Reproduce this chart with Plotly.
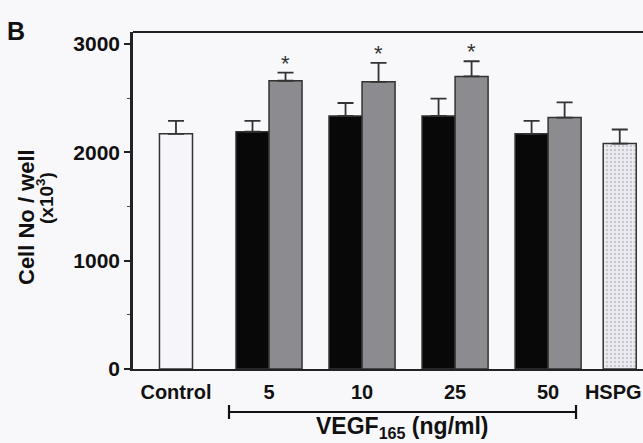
import plotly.graph_objects as go

# ---- data ----
categories = ["Control", "5", "10", "25", "50", "HSPG"]
control_mean = [2170]
control_err = [120]
vegf_doses = ["5", "10", "25", "50"]
black_mean = [2190, 2335, 2335, 2170]
black_err = [100, 120, 160, 120]
gray_mean = [2660, 2650, 2700, 2320]
gray_err = [75, 175, 140, 140]
hspg_mean = [2080]
hspg_err = [130]
significant = [True, True, True, False]

# ---- layout positions (not data) ----
pos_control = [0.0]
pos_vegf = [1.0, 2.0, 3.0, 4.0]
pos_hspg = [4.77]
label_pos = [0.0, 1.0, 2.0, 3.0, 4.0, 4.70]
bw = 0.355

FONT = "Liberation Sans"
err_style = dict(type="data", symmetric=False, thickness=1.8, width=8, color="#333333")
line_style = dict(color="#333333", width=1.5)

W, H = 643, 443
L, R, T, B = 133, 0, 32, 74
pw, ph = W - L - R, H - T - B


def px(xp):
    return (xp - L) / pw


def py(yp):
    return (H - B - yp) / ph


fig = go.Figure()
fig.add_trace(go.Bar(
    x=pos_control, y=control_mean, width=bw,
    marker=dict(color="#f6f6fa", line=line_style),
    error_y=dict(array=control_err, arrayminus=[0] * len(control_err), **err_style),
))
fig.add_trace(go.Bar(
    x=[p - bw / 2 for p in pos_vegf], y=black_mean, width=bw,
    marker=dict(color="#080808", line=line_style),
    error_y=dict(array=black_err, arrayminus=[0] * len(black_err), **err_style),
))
fig.add_trace(go.Bar(
    x=[p + bw / 2 for p in pos_vegf], y=gray_mean, width=bw,
    marker=dict(color="#8b8b90", line=line_style),
    error_y=dict(array=gray_err, arrayminus=[0] * len(gray_err), **err_style),
))
fig.add_trace(go.Bar(
    x=pos_hspg, y=hspg_mean, width=bw,
    marker=dict(color="#ececf2", line=line_style,
                pattern=dict(shape=".", fgcolor="#a0a0a8", bgcolor="#ececf2", size=4, solidity=0.3)),
    error_y=dict(array=hspg_err, arrayminus=[0] * len(hspg_err), **err_style),
))

annotations = []
for p, m, e, s in zip(pos_vegf, gray_mean, gray_err, significant):
    if s:
        annotations.append(dict(x=p + bw / 2, y=m + e, text="*", showarrow=False,
                                xref="x", yref="y", xanchor="center", yanchor="bottom", yshift=-5,
                                font=dict(family=FONT, size=22, color="#333333")))

annotations += [
    dict(x=px(16), y=py(31), xref="paper", yref="paper", text="<b>B</b>",
         xanchor="center", yanchor="middle", showarrow=False,
         font=dict(family=FONT, size=25, color="#111")),
    dict(x=px(26), y=py(217), xref="paper", yref="paper",
         text="<b>Cell No / well</b>", textangle=-90, showarrow=False,
         xanchor="center", yanchor="middle",
         font=dict(family=FONT, size=22, color="#111")),
    dict(x=px(45), y=py(198), xref="paper", yref="paper",
         text="<b>(x10<sup>3</sup>)</b>", textangle=-90, showarrow=False,
         xanchor="center", yanchor="middle",
         font=dict(family=FONT, size=19, color="#111")),
    dict(x=2.43, y=py(427), xref="x", yref="paper",
         text="<b>VEGF<sub>165</sub> (ng/ml)</b>", showarrow=False,
         xanchor="center", yanchor="middle",
         font=dict(family=FONT, size=23, color="#111")),
]

shapes = [
    dict(type="line", xref="paper", yref="paper", x0=0, x1=1, y0=1, y1=1,
         line=dict(color="#222", width=2)),
    dict(type="line", xref="x", yref="paper", x0=0.57, x1=4.30, y0=py(412), y1=py(412),
         line=dict(color="#111", width=2.2)),
    dict(type="line", xref="x", yref="paper", x0=0.57, x1=0.57, y0=py(405), y1=py(419),
         line=dict(color="#111", width=2.2)),
    dict(type="line", xref="x", yref="paper", x0=4.30, x1=4.30, y0=py(405), y1=py(419),
         line=dict(color="#111", width=2.2)),
]

fig.update_layout(
    width=W, height=H,
    margin=dict(l=L, r=R, t=T, b=B, pad=0),
    paper_bgcolor="#f8f8fb", plot_bgcolor="#f8f8fb",
    showlegend=False, barmode="overlay", shapes=shapes, annotations=annotations,
    font=dict(family=FONT, color="#111"),
    xaxis=dict(range=[-0.462, 5.02], tickvals=label_pos,
               ticktext=categories, showgrid=False, zeroline=False,
               showline=True, linecolor="#222", linewidth=2, ticks="",
               ticklabelstandoff=4,
               tickfont=dict(family=FONT, size=20, weight="bold", color="#111")),
    yaxis=dict(range=[0, 3110], tickvals=[0, 1000, 2000, 3000], showgrid=False,
               zeroline=False, showline=True, linecolor="#222", linewidth=2.5,
               ticks="outside", ticklen=6, tickwidth=1.5, tickcolor="#222",
               minor=dict(tickvals=[500, 1500, 2500], ticks="outside", ticklen=3,
                          tickwidth=1.2, tickcolor="#444"),
               tickfont=dict(family=FONT, size=21, weight="bold", color="#111")),
)

fig.write_html("out.html")
